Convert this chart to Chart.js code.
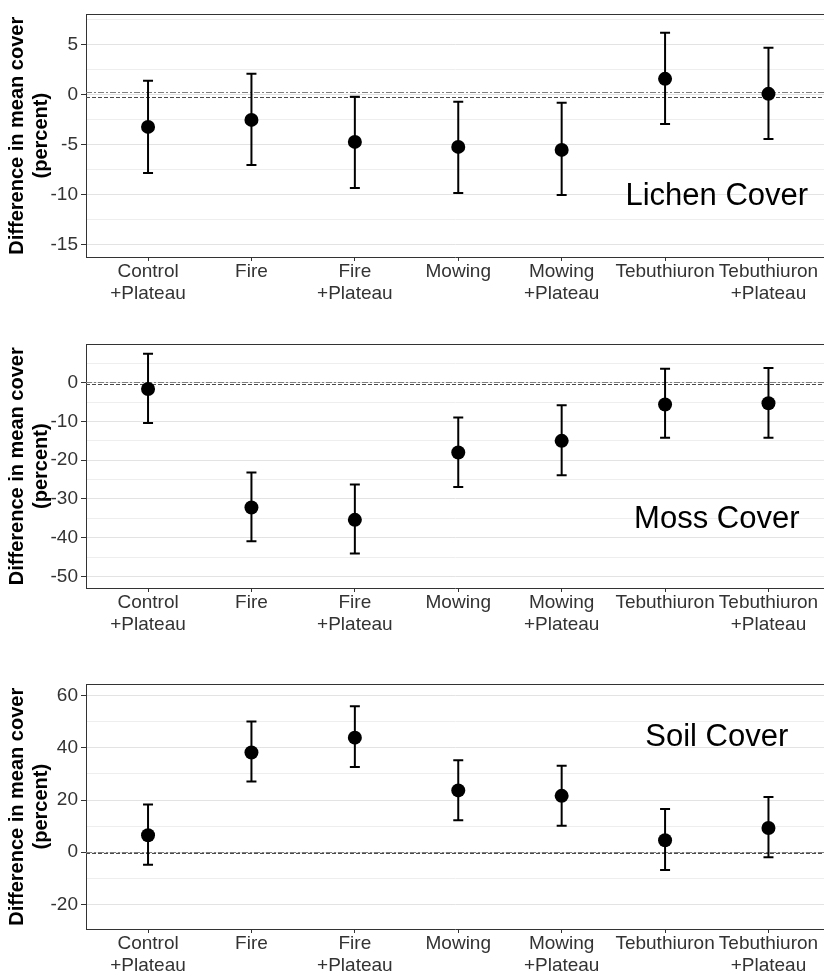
<!DOCTYPE html>
<html><head><meta charset="utf-8">
<script src="https://cdn.jsdelivr.net/npm/chart.js@4.4.1/dist/chart.umd.min.js"></script>
<style>
html,body{margin:0;padding:0;background:#fff;overflow:hidden;}
canvas{display:block;}
</style></head>
<body>
<canvas id="c1" width="824" height="330"></canvas>
<canvas id="c2" width="824" height="340"></canvas>
<canvas id="c3" width="824" height="308"></canvas>
<script>
const categories = [["Control","+Plateau"],["Fire"],["Fire","+Plateau"],["Mowing"],["Mowing","+Plateau"],["Tebuthiuron"],["Tebuthiuron","+Plateau"]];

const lichenMean  = [-3.2, -2.5, -4.7, -5.2, -5.5, 1.6, 0.1];
const lichenLower = [-7.8, -7.0, -9.3, -9.8, -10.0, -2.9, -4.4];
const lichenUpper = [1.4, 2.1, -0.2, -0.7, -0.8, 6.2, 4.7];
const lichenTicks = [-15, -10, -5, 0, 5];
const lichenMinorTicks = [-12.5, -7.5, -2.5, 2.5, 7.5];

const mossMean  = [-1.6, -32.2, -35.4, -18.0, -15.0, -5.6, -5.3];
const mossLower = [-10.4, -40.9, -44.1, -26.9, -23.9, -14.2, -14.2];
const mossUpper = [7.5, -23.2, -26.3, -9.0, -5.8, 3.6, 3.8];
const mossTicks = [-50, -40, -30, -20, -10, 0];
const mossMinorTicks = [-45, -35, -25, -15, -5, 5];

const soilMean  = [6.5, 38.2, 43.9, 23.7, 21.6, 4.6, 9.3];
const soilLower = [-4.8, 27.1, 32.7, 12.3, 10.2, -6.8, -1.9];
const soilUpper = [18.3, 50.1, 55.9, 35.2, 33.1, 16.6, 21.2];
const soilTicks = [-20, 0, 20, 40, 60];
const soilMinorTicks = [-10, 10, 30, 50];

const refLines = [0.25, -0.25];
const panelTitles = ["Lichen Cover", "Moss Cover", "Soil Cover"];
const yTitle = ["Difference in mean cover", "(percent)"];

const FONT = '"Liberation Sans", Arial, sans-serif';

const overlay = {
  id: 'overlay',
  beforeDatasetsDraw(chart, args, o) {
    const {ctx, chartArea: a, scales: {x, y}} = chart;
    ctx.save();
    ctx.beginPath(); ctx.rect(a.left, a.top, a.right - a.left, a.bottom - a.top); ctx.clip();
    o.refLines.forEach((v, i) => {
      const py = Math.round(y.getPixelForValue(v)) + 0.5;
      ctx.beginPath();
      ctx.setLineDash(i === 0 ? [6, 2, 2, 2] : [4, 2]);
      ctx.strokeStyle = i === 0 ? '#808080' : '#4a4a4a';
      ctx.lineWidth = 1;
      ctx.moveTo(a.left, py); ctx.lineTo(a.right, py); ctx.stroke();
    });
    ctx.setLineDash([]);
    ctx.strokeStyle = '#000'; ctx.lineWidth = 2;
    o.lower.forEach((lo, i) => {
      const px = x.getPixelForValue(i);
      const pl = y.getPixelForValue(lo), pu = y.getPixelForValue(o.upper[i]);
      ctx.beginPath();
      ctx.moveTo(px, pl); ctx.lineTo(px, pu);
      ctx.moveTo(px - 5, pl); ctx.lineTo(px + 5, pl);
      ctx.moveTo(px - 5, pu); ctx.lineTo(px + 5, pu);
      ctx.stroke();
    });
    ctx.restore();
  },
  afterDraw(chart, args, o) {
    const {ctx, chartArea: a, scales: {x, y}} = chart;
    ctx.save();
    ctx.strokeStyle = '#333'; ctx.lineWidth = 1;
    ctx.beginPath(); ctx.moveTo(a.left, Math.round(a.top) + 0.5); ctx.lineTo(a.right, Math.round(a.top) + 0.5); ctx.stroke();
    ctx.fillStyle = '#000'; ctx.font = '31px ' + FONT; ctx.textAlign = 'center'; ctx.textBaseline = 'middle';
    ctx.fillText(o.title, x.getPixelForValue(o.titleAt[0]), y.getPixelForValue(o.titleAt[1]));
    ctx.restore();
  }
};

function makePanel(id, mean, lower, upper, major, minor, yMin, yMax, padTop, xAxisH, title, titleAt) {
  const allTicks = major.concat(minor).sort((a, b) => a - b);
  return new Chart(document.getElementById(id), {
    type: 'scatter',
    data: { datasets: [{
      data: mean.map((v, i) => ({x: i, y: v})),
      pointRadius: 7, pointHoverRadius: 7,
      backgroundColor: '#000', borderColor: '#000', borderWidth: 0
    }]},
    options: {
      responsive: false, animation: false, devicePixelRatio: 1,
      layout: {autoPadding: false, padding: {top: padTop, left: 0, right: 0, bottom: 0}},
      plugins: {
        legend: {display: false}, tooltip: {enabled: false},
        overlay: {lower: lower, upper: upper, refLines: refLines, title: title, titleAt: titleAt}
      },
      scales: {
        x: {
          type: 'linear', min: -0.6, max: 6.537,
          afterBuildTicks: s => { s.ticks = categories.map((c, i) => ({value: i})); },
          afterFit: s => { s.height = xAxisH; },
          ticks: {
            callback: (v, idx) => categories[idx],
            font: {family: FONT, size: 19, lineHeight: 1.15},
            color: '#333', padding: 0, maxRotation: 0, minRotation: 0, autoSkip: false
          },
          grid: {drawOnChartArea: false, drawTicks: true, tickLength: 4, tickColor: '#333', tickWidth: 1},
          border: {display: true, color: '#333', width: 1}
        },
        y: {
          type: 'linear', min: yMin, max: yMax,
          afterBuildTicks: s => { s.ticks = allTicks.map(v => ({value: v})); },
          afterFit: s => { s.width = 86; },
          ticks: {
            callback: v => major.includes(v) ? String(v) : '',
            font: {family: FONT, size: 19}, color: '#333', padding: 3, autoSkip: false
          },
          grid: {
            color: c => (c.tick && major.includes(c.tick.value)) ? '#E3E3E3' : '#EEEEEE',
            tickColor: c => (c.tick && major.includes(c.tick.value)) ? '#333' : 'rgba(0,0,0,0)',
            tickLength: 5, lineWidth: 1
          },
          border: {display: true, color: '#333', width: 1},
          title: {
            display: true, text: yTitle,
            font: {family: FONT, size: 20, weight: 'bold', lineHeight: 1.2},
            color: '#000', padding: {top: 5, bottom: 0}
          }
        }
      }
    },
    plugins: [overlay]
  });
}

makePanel('c1', lichenMean, lichenLower, lichenUpper, lichenTicks, lichenMinorTicks, -16.2, 8.04, 10, 73, panelTitles[0], [5.5, -10.2]);
makePanel('c2', mossMean, mossLower, mossUpper, mossTicks, mossMinorTicks, -53.0, 9.9, 10, 82, panelTitles[1], [5.5, -35.3]);
makePanel('c3', soilMean, soilLower, soilUpper, soilTicks, soilMinorTicks, -29.4, 64.3, 13, 49, panelTitles[2], [5.5, 44.1]);
</script>
</body></html>
